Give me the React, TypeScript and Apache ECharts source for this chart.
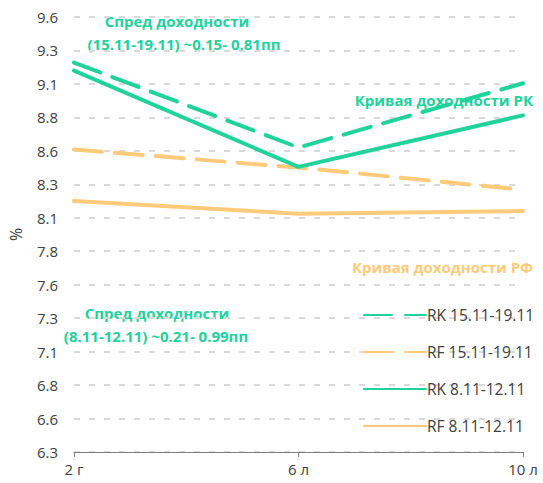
import React, { useEffect, useRef } from "react";
import * as echarts from "echarts";

const categories = ["2 г", "6 л", "10 л"];
const rkWeek2 = [9.21, 8.575, 9.055];
const rfWeek2 = [8.56, 8.425, 8.26];
const rkWeek1 = [9.15, 8.43, 8.815];
const rfWeek1 = [8.175, 8.08, 8.1];
const yTickLabels = ["6.3", "6.6", "6.8", "7.1", "7.3", "7.6", "7.8", "8.1", "8.3", "8.6", "8.8", "9.1", "9.3", "9.6"];
const seriesNames = ["RK 15.11-19.11", "RF 15.11-19.11", "RK 8.11-12.11", "RF 8.11-12.11"];

const GREEN = "#20d29b";
const ORANGE = "#ffca7a";
const FONT = "'Open Sans', sans-serif";

export default function App() {
  const ref = useRef<HTMLDivElement>(null);
  useEffect(() => {
    if (!ref.current) return;
    const chart = echarts.init(ref.current, undefined, { renderer: "svg" });
    const yMin = 6.3;
    const yStep = 0.25;
    const mk = (name: string, data: number[], color: string, dashed: boolean) => ({
      name,
      type: "line",
      data,
      symbol: "none",
      lineStyle: { color, width: 4, type: dashed ? [28, 13] : "solid", cap: "round", join: "round" },
      itemStyle: { color },
    });
    const bold = `bold 15px ${FONT}`;
    chart.setOption({
      animation: false,
      textStyle: { fontFamily: FONT },
      grid: { left: 72, right: 20, top: 17, bottom: 31 },
      xAxis: {
        type: "category",
        data: categories,
        boundaryGap: false,
        axisLine: { lineStyle: { color: "#808080", width: 1 } },
        axisTick: { show: true, length: 5, lineStyle: { color: "#808080" } },
        axisLabel: { color: "#404040", fontSize: 15, fontFamily: FONT, margin: 9 },
      },
      yAxis: {
        type: "value",
        min: yMin,
        max: yMin + yStep * (yTickLabels.length - 1),
        interval: yStep,
        name: "%",
        nameLocation: "middle",
        nameGap: 50,
        nameTextStyle: { color: "#404040", fontSize: 16, fontFamily: FONT },
        axisLine: { show: false },
        axisTick: { show: false },
        axisLabel: {
          color: "#404040",
          fontSize: 15,
          fontFamily: FONT,
          margin: 16,
          formatter: (v: number) => yTickLabels[Math.round((v - yMin) / yStep)] ?? "",
        },
        splitLine: { lineStyle: { color: "#d9d9d9", width: 2, type: [6, 9] } },
      },
      legend: {
        orient: "vertical",
        left: 358,
        top: 302,
        itemWidth: 62,
        itemHeight: 14,
        itemGap: 21,
        itemStyle: { opacity: 0 },
        textStyle: { color: "#404040", fontSize: 15.5, fontFamily: FONT, padding: [0, 0, 0, -4] },
        data: seriesNames,
      },
      series: [
        mk(seriesNames[0], rkWeek2, GREEN, true),
        mk(seriesNames[1], rfWeek2, ORANGE, true),
        mk(seriesNames[2], rkWeek1, GREEN, false),
        mk(seriesNames[3], rfWeek1, ORANGE, false),
      ],
      graphic: [
        { type: "text", x: 177, y: 21, style: { text: "Спред доходности", fill: GREEN, font: bold, align: "center", verticalAlign: "middle" } },
        { type: "text", x: 184, y: 44, style: { text: "(15.11-19.11) ~0.15- 0.81пп", fill: GREEN, font: bold, align: "center", verticalAlign: "middle" } },
        { type: "text", x: 533, y: 100, style: { text: "Кривая доходности РК", fill: GREEN, font: bold, align: "right", verticalAlign: "middle" } },
        { type: "text", x: 533, y: 267, style: { text: "Кривая доходности РФ", fill: ORANGE, font: bold, align: "right", verticalAlign: "middle" } },
        { type: "text", x: 157, y: 313, style: { text: "Спред доходности", fill: GREEN, font: bold, align: "center", verticalAlign: "middle" } },
        { type: "text", x: 156, y: 336, style: { text: "(8.11-12.11) ~0.21- 0.99пп", fill: GREEN, font: bold, align: "center", verticalAlign: "middle" } },
      ],
    });
    return () => chart.dispose();
  }, []);
  return <div ref={ref} style={{ width: 543, height: 483, position: "absolute", left: 0, top: 0 }} />;
}
